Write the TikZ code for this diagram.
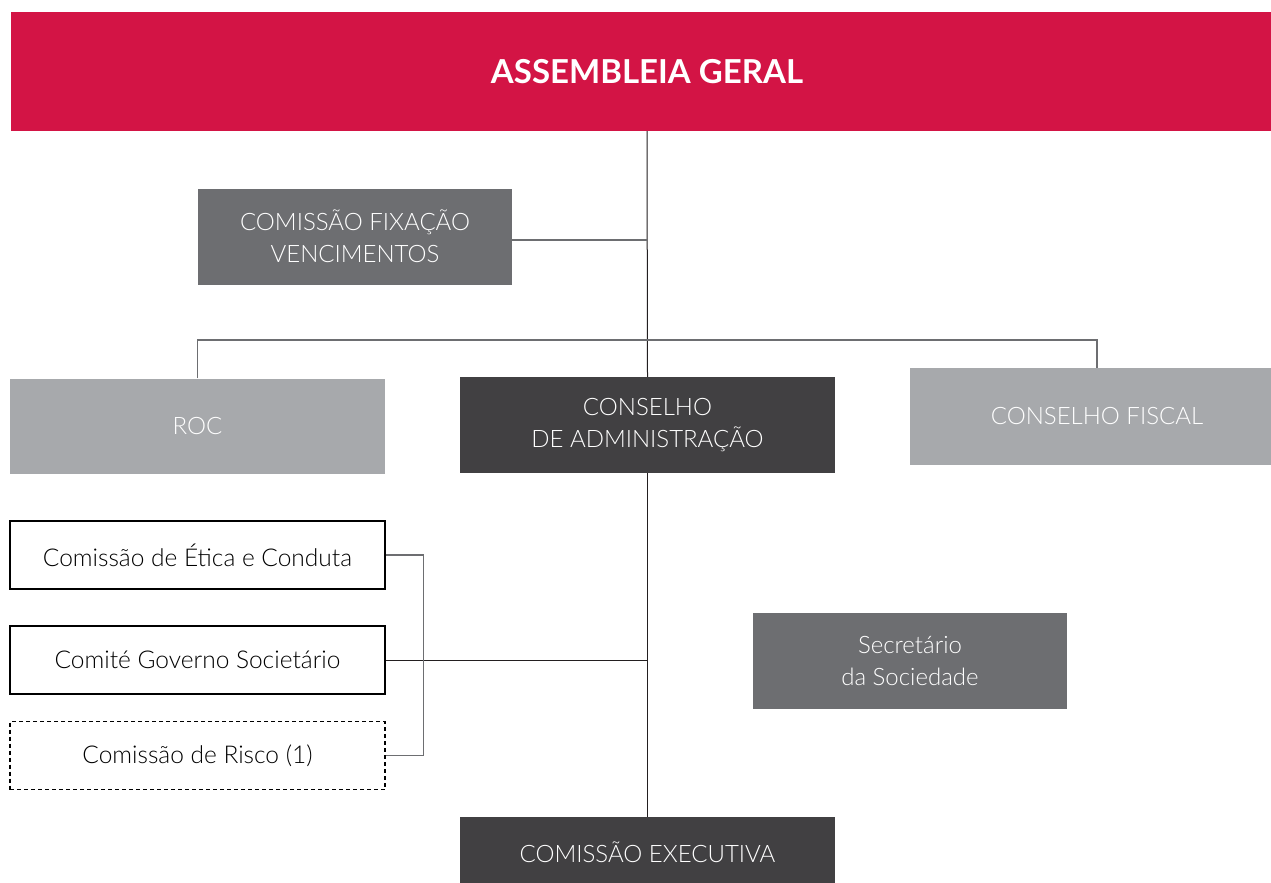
\documentclass[tikz,border=0pt]{standalone}
\usepackage{fontspec}
\setmainfont{Lato}
\newfontfamily\lightfont{Lato Light}
\definecolor{AGred}{RGB}{211,20,69}
\definecolor{Gmid}{RGB}{109,110,113}
\definecolor{Glight}{RGB}{167,169,172}
\definecolor{Gdark}{RGB}{65,64,66}
\definecolor{Gline}{RGB}{35,31,32}

\begin{document}
\begin{tikzpicture}[x=1pt, y=-1pt,
    orgbox/.style={inner sep=0pt, align=center, text=white,
      font=\lightfont\fontsize{24}{32}\selectfont},
    midbox/.style={orgbox, fill=Gmid, minimum width=314pt, minimum height=96pt},
    lightbox/.style={orgbox, fill=Glight, minimum width=375pt, minimum height=95pt},
    darkbox/.style={orgbox, fill=Gdark, minimum width=375pt},
    subbox/.style={orgbox, text=black, draw=black, line width=1.6pt, fill=white,
      minimum width=375pt, minimum height=68pt, font=\lightfont\fontsize{24.5}{32}\selectfont},
    link/.style={draw=Gline, line width=1pt},
    graylink/.style={draw=Gmid, line width=1.8pt}]
  \useasboundingbox (0,0) rectangle (1271,883);

  % top
  \node[orgbox, fill=AGred, minimum width=1272pt, minimum height=119pt,
        font=\bfseries\fontsize{33}{36}\selectfont] (AG) at (647,71.5) {ASSEMBLEIA GERAL};
  \node[midbox] (CFV) at (355,236.5) {COMISSÃO FIXAÇÃO\\VENCIMENTOS};

  % second row
  \node[lightbox] (ROC) at (197.5,426) {ROC};
  \node[darkbox, minimum height=96pt] (CA) at (647.5,425) {CONSELHO\\DE ADMINISTRAÇÃO};
  \node[lightbox, minimum width=374pt, minimum height=97pt] (CF) at (1097,416.5) {CONSELHO FISCAL};

  % commissions
  \node[subbox] (ETI) at (197.5,555) {Comissão de Ética e Conduta};
  \node[subbox] (GOV) at (197.5,660) {Comité Governo Societário};
  \node[subbox, dash pattern=on 4pt off 3pt, line width=1.3pt] (RIS) at (197.5,755.5) {Comissão de Risco (1)};
  \node[midbox] (SEC) at (910,661) {Secretário\\da Sociedade};
  \node[darkbox, minimum height=70pt] (CE) at (647.5,852) {COMISSÃO EXECUTIVA};

  % connectors
  \coordinate (bar) at (647,340);
  \coordinate (fix) at ([yshift=-3.5pt]CFV.east);
  \draw[link] (AG.south) -- (CA.north);
  \draw[link] (CA.south) -- (CE.north);
  \draw[graylink] (fix) -- (fix -| AG.south);
  \draw[graylink] (ROC.north) |- (bar) -| (CF.north);
  \draw[link] (GOV.east) -- (GOV.east -| CA.south);
  \draw[link, draw=Gmid, line width=1.3pt] (ETI.east) -- ++(38,0) |- (RIS.east);
\end{tikzpicture}
\end{document}
